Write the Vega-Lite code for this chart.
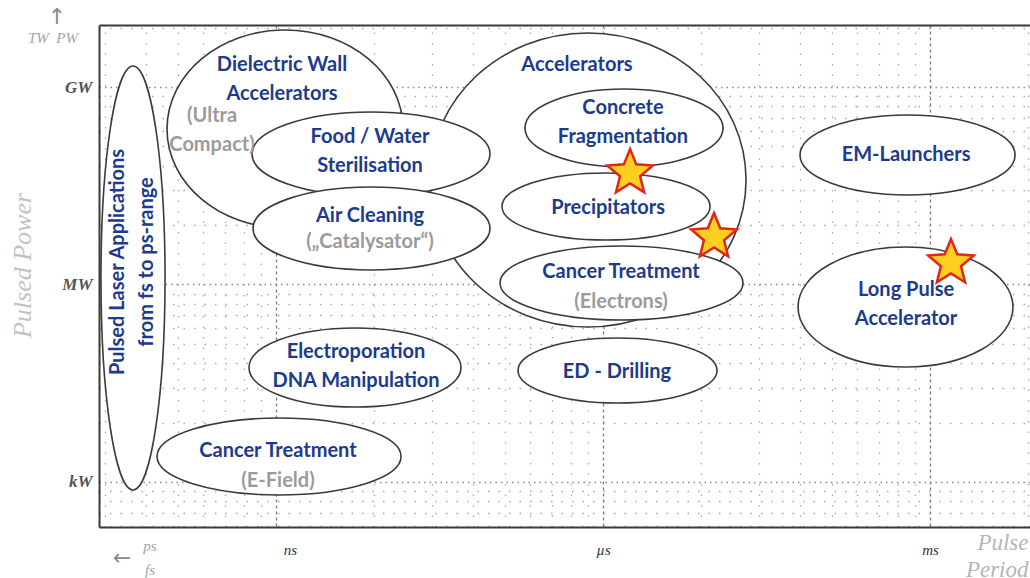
{
  "$schema": "https://vega.github.io/schema/vega-lite/v6.json",
  "width": 931,
  "height": 502,
  "autosize": "none",
  "padding": {"left": 99, "top": 25, "right": 0, "bottom": 51},
  "background": "white",
  "view": {"stroke": null},
  "datasets": {
    "regions": [
      {"region": "01 Pulsed Laser Applications", "pt": 0, "lx": -10.606, "ly": 6.099},
      {"region": "01 Pulsed Laser Applications", "pt": 1, "lx": -10.312, "ly": 9.319},
      {"region": "01 Pulsed Laser Applications", "pt": 2, "lx": -10.018, "ly": 6.099},
      {"region": "01 Pulsed Laser Applications", "pt": 3, "lx": -10.312, "ly": 2.878},
      {"region": "02 Dielectric Wall Accelerators", "pt": 0, "lx": -10.0, "ly": 8.362},
      {"region": "02 Dielectric Wall Accelerators", "pt": 1, "lx": -8.917, "ly": 9.866},
      {"region": "02 Dielectric Wall Accelerators", "pt": 2, "lx": -7.835, "ly": 8.362},
      {"region": "02 Dielectric Wall Accelerators", "pt": 3, "lx": -8.917, "ly": 6.858},
      {"region": "03 Accelerators", "pt": 0, "lx": -7.587, "ly": 7.587},
      {"region": "03 Accelerators", "pt": 1, "lx": -6.138, "ly": 9.82},
      {"region": "03 Accelerators", "pt": 2, "lx": -4.688, "ly": 7.587},
      {"region": "03 Accelerators", "pt": 3, "lx": -6.138, "ly": 5.354},
      {"region": "04 Food / Water Sterilisation", "pt": 0, "lx": -9.22, "ly": 7.982},
      {"region": "04 Food / Water Sterilisation", "pt": 1, "lx": -8.128, "ly": 8.62},
      {"region": "04 Food / Water Sterilisation", "pt": 2, "lx": -7.037, "ly": 7.982},
      {"region": "04 Food / Water Sterilisation", "pt": 3, "lx": -8.128, "ly": 7.344},
      {"region": "05 Air Cleaning", "pt": 0, "lx": -9.211, "ly": 6.851},
      {"region": "05 Air Cleaning", "pt": 1, "lx": -8.128, "ly": 7.481},
      {"region": "05 Air Cleaning", "pt": 2, "lx": -7.037, "ly": 6.851},
      {"region": "05 Air Cleaning", "pt": 3, "lx": -8.128, "ly": 6.22},
      {"region": "06 Concrete Fragmentation", "pt": 0, "lx": -6.716, "ly": 8.377},
      {"region": "06 Concrete Fragmentation", "pt": 1, "lx": -5.807, "ly": 8.97},
      {"region": "06 Concrete Fragmentation", "pt": 2, "lx": -4.899, "ly": 8.377},
      {"region": "06 Concrete Fragmentation", "pt": 3, "lx": -5.807, "ly": 7.785},
      {"region": "07 Precipitators", "pt": 0, "lx": -6.927, "ly": 7.185},
      {"region": "07 Precipitators", "pt": 1, "lx": -5.973, "ly": 7.694},
      {"region": "07 Precipitators", "pt": 2, "lx": -5.018, "ly": 7.185},
      {"region": "07 Precipitators", "pt": 3, "lx": -5.973, "ly": 6.676},
      {"region": "08 Cancer Treatment (Electrons)", "pt": 0, "lx": -6.945, "ly": 6.023},
      {"region": "08 Cancer Treatment (Electrons)", "pt": 1, "lx": -5.83, "ly": 6.585},
      {"region": "08 Cancer Treatment (Electrons)", "pt": 2, "lx": -4.716, "ly": 6.023},
      {"region": "08 Cancer Treatment (Electrons)", "pt": 3, "lx": -5.83, "ly": 5.461},
      {"region": "09 ED - Drilling", "pt": 0, "lx": -6.78, "ly": 4.694},
      {"region": "09 ED - Drilling", "pt": 1, "lx": -5.867, "ly": 5.187},
      {"region": "09 ED - Drilling", "pt": 2, "lx": -4.954, "ly": 4.694},
      {"region": "09 ED - Drilling", "pt": 3, "lx": -5.867, "ly": 4.2},
      {"region": "10 Electroporation", "pt": 0, "lx": -9.248, "ly": 4.739},
      {"region": "10 Electroporation", "pt": 1, "lx": -8.275, "ly": 5.339},
      {"region": "10 Electroporation", "pt": 2, "lx": -7.303, "ly": 4.739},
      {"region": "10 Electroporation", "pt": 3, "lx": -8.275, "ly": 4.139},
      {"region": "11 Cancer Treatment (E-Field)", "pt": 0, "lx": -10.092, "ly": 3.387},
      {"region": "11 Cancer Treatment (E-Field)", "pt": 1, "lx": -8.972, "ly": 3.972},
      {"region": "11 Cancer Treatment (E-Field)", "pt": 2, "lx": -7.853, "ly": 3.387},
      {"region": "11 Cancer Treatment (E-Field)", "pt": 3, "lx": -8.972, "ly": 2.803},
      {"region": "12 EM-Launchers", "pt": 0, "lx": -4.193, "ly": 7.967},
      {"region": "12 EM-Launchers", "pt": 1, "lx": -3.207, "ly": 8.575},
      {"region": "12 EM-Launchers", "pt": 2, "lx": -2.22, "ly": 7.967},
      {"region": "12 EM-Launchers", "pt": 3, "lx": -3.207, "ly": 7.36},
      {"region": "13 Long Pulse Accelerator", "pt": 0, "lx": -4.211, "ly": 5.658},
      {"region": "13 Long Pulse Accelerator", "pt": 1, "lx": -3.225, "ly": 6.57},
      {"region": "13 Long Pulse Accelerator", "pt": 2, "lx": -2.239, "ly": 5.658},
      {"region": "13 Long Pulse Accelerator", "pt": 3, "lx": -3.225, "ly": 4.747}
    ],
    "labels": [
      {"text": "Dielectric Wall\nAccelerators", "lx": -8.945, "ly": 9.334, "kind": "name"},
      {"text": "(Ultra\nCompact)", "lx": -9.587, "ly": 8.56, "kind": "note"},
      {"text": "Food / Water\nSterilisation", "lx": -8.138, "ly": 8.241, "kind": "name"},
      {"text": "Air Cleaning", "lx": -8.138, "ly": 7.041, "kind": "name"},
      {"text": "(„Catalysator“)", "lx": -8.138, "ly": 6.646, "kind": "note"},
      {"text": "Accelerators", "lx": -6.239, "ly": 9.334, "kind": "name"},
      {"text": "Concrete\nFragmentation", "lx": -5.817, "ly": 8.681, "kind": "name"},
      {"text": "Precipitators", "lx": -5.954, "ly": 7.162, "kind": "name"},
      {"text": "Cancer Treatment", "lx": -5.835, "ly": 6.19, "kind": "name"},
      {"text": "(Electrons)", "lx": -5.835, "ly": 5.734, "kind": "note"},
      {"text": "ED - Drilling", "lx": -5.872, "ly": 4.671, "kind": "name"},
      {"text": "Electroporation\nDNA Manipulation", "lx": -8.266, "ly": 4.975, "kind": "name"},
      {"text": "Cancer Treatment", "lx": -8.982, "ly": 3.471, "kind": "name"},
      {"text": "(E-Field)", "lx": -8.982, "ly": 3.015, "kind": "note"},
      {"text": "EM-Launchers", "lx": -3.22, "ly": 7.967, "kind": "name"},
      {"text": "Long Pulse\nAccelerator", "lx": -3.22, "ly": 5.916, "kind": "name"}
    ],
    "vlabels": [
      {"text": "Pulsed Laser Applications\nfrom fs to ps-range", "lx": -10.45, "ly": 6.342}
    ],
    "stars": [
      {"lx": -5.752, "ly": 7.694},
      {"lx": -4.982, "ly": 6.722},
      {"lx": -2.808, "ly": 6.327}
    ],
    "notes": [
      {"text": "TW\u00a0\u00a0PW", "lx": -11.046, "ly": 9.744},
      {"text": "ps", "lx": -10.156, "ly": 2.028},
      {"text": "fs", "lx": -10.156, "ly": 1.663}
    ],
    "arrows": [
      {"text": "↑", "lx": -11.009, "ly": 10.063},
      {"text": "←", "lx": -10.413, "ly": 1.846}
    ]
  },
  "resolve": {"axis": {"x": "independent", "y": "independent"}},
  "layer": [
    {
      "data": {"name": "regions"},
      "mark": {"type": "line", "interpolate": "cardinal-closed", "tension": -0.66, "fill": "white", "stroke": "#3a3a3a", "strokeWidth": 1.6},
      "encoding": {
        "x": {
          "field": "lx", "type": "quantitative",
          "scale": {"domain": [-10.624, -2.083], "nice": false, "zero": false},
          "axis": {
            "orient": "top", "title": null, "labels": false, "ticks": false,
            "domain": true, "domainColor": "#3a3a3a", "domainWidth": 2,
            "grid": true, "gridColor": "#ababab", "gridDash": [1.5, 9], "gridWidth": 1.3,
            "values": [-10.569, -10.194, -9.903, -9.666, -9.465, -9.291, -9.137,
                       -8.097, -7.569, -7.194, -6.903, -6.666, -6.465, -6.291, -6.137,
                       -5.097, -4.569, -4.194, -3.903, -3.666, -3.465, -3.291, -3.137, -2.097]
          }
        },
        "y": {
          "field": "ly", "type": "quantitative",
          "scale": {"domain": [2.316, 9.942], "nice": false, "zero": false},
          "axis": {
            "orient": "left", "title": null, "labels": false, "ticks": false,
            "domain": true, "domainColor": "#3a3a3a", "domainWidth": 2,
            "grid": true, "gridColor": "#ababab", "gridDash": [1.5, 9], "gridWidth": 1.3,
            "values": [2.334, 2.535, 2.709, 2.863,
                       3.903, 4.431, 4.806, 5.097, 5.334, 5.535, 5.709, 5.863,
                       6.903, 7.431, 7.806, 8.097, 8.334, 8.535, 8.709, 8.863, 9.903]
          }
        },
        "detail": {"field": "region", "type": "nominal"},
        "order": {"field": "pt", "type": "quantitative"}
      }
    },
    {
      "data": {"name": "stars"},
      "mark": {
        "type": "point", "filled": true, "opacity": 1,
        "shape": "M0,-1L0.26,-0.36L0.951,-0.309L0.42,0.137L0.588,0.809L0,0.44L-0.588,0.809L-0.42,0.137L-0.951,-0.309L-0.26,-0.36Z",
        "size": 2300, "fill": "#FFCF1F", "stroke": "#E0261B", "strokeWidth": 2.5
      },
      "encoding": {
        "x": {
          "field": "lx", "type": "quantitative",
          "scale": {"domain": [-10.624, -2.083], "nice": false, "zero": false},
          "axis": {
            "orient": "bottom", "values": [-9, -6, -3],
            "labelExpr": "datum.value == -9 ? 'ns' : datum.value == -6 ? 'µs' : 'ms'",
            "labelOffset": {"condition": {"test": "datum.value == -9", "value": 14}, "value": 0},
            "labelFont": "Liberation Serif", "labelFontStyle": "italic", "labelFontSize": 15, "labelColor": "#333333",
            "labelPadding": 15, "ticks": false,
            "domain": true, "domainColor": "#3a3a3a", "domainWidth": 2,
            "grid": true, "gridColor": "#7a7a7a", "gridDash": [3, 3], "gridWidth": 1.3,
            "title": ["Pulse", "Period"], "titleFont": "Liberation Serif", "titleFontStyle": "italic",
            "titleFontWeight": "normal", "titleFontSize": 23, "titleColor": "#b5b5b5",
            "titleAlign": "right", "titleBaseline": "top", "titleLineHeight": 27,
            "titleX": 929, "titleY": 4
          }
        },
        "y": {
          "field": "ly", "type": "quantitative",
          "scale": {"domain": [2.316, 9.942], "nice": false, "zero": false},
          "axis": {
            "orient": "left", "values": [3, 6, 9],
            "labelExpr": "datum.value == 3 ? 'kW' : datum.value == 6 ? 'MW' : 'GW'",
            "labelFont": "Liberation Serif", "labelFontStyle": "italic", "labelFontWeight": "bold",
            "labelFontSize": 17, "labelColor": "#555555", "labelPadding": 7, "ticks": false,
            "domain": false,
            "grid": true, "gridColor": "#8a8a8a", "gridDash": [1.5, 4], "gridWidth": 1.3,
            "title": "Pulsed Power", "titleFont": "Liberation Serif", "titleFontStyle": "italic",
            "titleFontWeight": "normal", "titleFontSize": 26, "titleColor": "#c2c2c2",
            "titleAngle": 270, "titleAlign": "center", "titleBaseline": "middle",
            "titleX": -77, "titleY": 240
          }
        }
      }
    },
    {
      "data": {"name": "labels"},
      "mark": {"type": "text", "font": "Lato", "fontWeight": "bold", "fontSize": 20, "lineBreak": "\n", "lineHeight": 29, "align": "center", "baseline": "middle"},
      "encoding": {
        "x": {"field": "lx", "type": "quantitative", "scale": {"domain": [-10.624, -2.083], "nice": false, "zero": false}, "axis": null},
        "y": {"field": "ly", "type": "quantitative", "scale": {"domain": [2.316, 9.942], "nice": false, "zero": false}, "axis": null},
        "text": {"field": "text"},
        "color": {"field": "kind", "type": "nominal", "scale": {"domain": ["name", "note"], "range": ["#1c3a8e", "#9b9b9b"]}, "legend": null}
      }
    },
    {
      "data": {"name": "vlabels"},
      "mark": {"type": "text", "font": "Lato", "fontWeight": "bold", "fontSize": 20, "lineBreak": "\n", "lineHeight": 29, "angle": 270, "align": "center", "baseline": "middle", "color": "#1c3a8e"},
      "encoding": {
        "x": {"field": "lx", "type": "quantitative", "scale": {"domain": [-10.624, -2.083], "nice": false, "zero": false}, "axis": null},
        "y": {"field": "ly", "type": "quantitative", "scale": {"domain": [2.316, 9.942], "nice": false, "zero": false}, "axis": null},
        "text": {"field": "text"}
      }
    },
    {
      "data": {"name": "notes"},
      "mark": {"type": "text", "font": "Liberation Serif", "fontStyle": "italic", "fontSize": 15, "align": "center", "baseline": "middle", "color": "#a5a5a5"},
      "encoding": {
        "x": {"field": "lx", "type": "quantitative", "scale": {"domain": [-10.624, -2.083], "nice": false, "zero": false}, "axis": null},
        "y": {"field": "ly", "type": "quantitative", "scale": {"domain": [2.316, 9.942], "nice": false, "zero": false}, "axis": null},
        "text": {"field": "text"}
      }
    },
    {
      "data": {"name": "arrows"},
      "mark": {"type": "text", "font": "DejaVu Sans", "fontSize": 22, "align": "center", "baseline": "middle", "color": "#8a8a8a"},
      "encoding": {
        "x": {"field": "lx", "type": "quantitative", "scale": {"domain": [-10.624, -2.083], "nice": false, "zero": false}, "axis": null},
        "y": {"field": "ly", "type": "quantitative", "scale": {"domain": [2.316, 9.942], "nice": false, "zero": false}, "axis": null},
        "text": {"field": "text"}
      }
    }
  ]
}
